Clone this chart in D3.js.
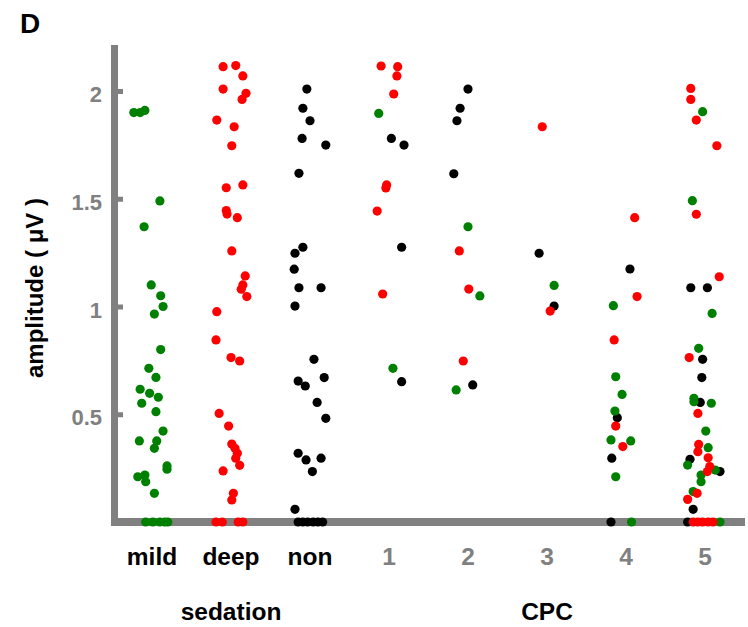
<!DOCTYPE html>
<html><head><meta charset="utf-8">
<script src="https://cdn.jsdelivr.net/npm/d3@7"></script>
<style>
body{margin:0;background:#fff;}
text{font-family:"Liberation Sans",Arial,sans-serif;font-weight:bold;}
</style></head>
<body><svg id="c" width="748" height="627"></svg>
<script>
const categories = ["mild","deep","non","1","2","3","4","5"];
const yTicks = [0.5, 1, 1.5, 2];
const yTickLabels = ["0.5","1","1.5","2"];
// each point: [category, jitter (fraction of category step), amplitude]
const greenPts = [
 ["mild",-0.23,1.90],["mild",-0.15,1.90],["mild",-0.09,1.91],["mild",0.10,1.49],["mild",-0.10,1.37],
 ["mild",-0.01,1.10],["mild",0.11,1.05],["mild",0.14,1.00],["mild",0.03,0.965],["mild",0.11,0.80],
 ["mild",-0.04,0.713],["mild",0.05,0.671],["mild",-0.15,0.616],["mild",-0.03,0.597],["mild",0.08,0.579],
 ["mild",-0.13,0.551],["mild",0.05,0.512],["mild",0.14,0.422],["mild",-0.16,0.376],["mild",0.06,0.376],
 ["mild",0.03,0.342],["mild",0.19,0.26],["mild",0.19,0.245],["mild",-0.18,0.21],["mild",-0.09,0.218],
 ["mild",-0.08,0.187],["mild",0.03,0.133],
 ["mild",-0.08,0],["mild",0.01,0],["mild",0.10,0],["mild",0.16,0],["mild",0.20,0],
 ["1",-0.13,1.896],["1",0.05,0.713],
 ["2",0.00,1.37],["2",0.15,1.049],["2",-0.15,0.613],
 ["3",0.09,1.098],
 ["4",-0.16,1.004],["4",-0.13,0.674],["4",-0.05,0.592],["4",-0.14,0.515],["4",-0.19,0.381],
 ["4",0.06,0.376],["4",-0.13,0.21],["4",0.07,0],
 ["5",-0.03,1.904],["5",-0.16,1.491],["5",0.09,0.968],["5",-0.08,0.806],["5",-0.14,0.574],
 ["5",-0.14,0.558],["5",0.08,0.551],["5",0.01,0.422],["5",0.04,0.345],["5",-0.22,0.264],
 ["5",0.13,0.241],["5",-0.05,0.218],["5",-0.05,0.187],["5",-0.15,0.141],["5",0.19,0]
];
const redPts = [
 ["deep",-0.10,2.113],["deep",0.06,2.118],["deep",0.15,2.07],["deep",-0.10,2.009],["deep",0.19,1.989],
 ["deep",0.14,1.961],["deep",-0.18,1.865],["deep",0.04,1.834],["deep",0.01,1.746],["deep",-0.06,1.551],
 ["deep",0.15,1.564],["deep",-0.06,1.445],["deep",-0.05,1.429],["deep",0.08,1.412],["deep",0.01,1.258],
 ["deep",0.18,1.142],["deep",0.15,1.10],["deep",0.13,1.08],["deep",0.20,1.046],["deep",-0.18,0.976],
 ["deep",-0.19,0.845],["deep",0.00,0.763],["deep",0.11,0.747],["deep",-0.15,0.504],["deep",-0.03,0.445],
 ["deep",0.01,0.362],["deep",0.05,0.342],["deep",0.08,0.319],["deep",0.06,0.296],["deep",0.11,0.263],
 ["deep",-0.10,0.237],["deep",0.03,0.133],["deep",0.01,0.102],
 ["deep",-0.19,0],["deep",-0.11,0],["deep",0.09,0],["deep",0.15,0],
 ["1",-0.10,2.116],["1",0.11,2.113],["1",0.10,2.07],["1",0.06,1.986],["1",-0.03,1.564],
 ["1",-0.04,1.55],["1",-0.15,1.443],["1",-0.08,1.058],
 ["2",-0.11,1.258],["2",0.01,1.081],["2",-0.06,0.747],
 ["3",-0.06,1.834],["3",0.04,0.979],
 ["4",0.11,1.412],["4",0.14,1.046],["4",-0.15,0.845],["4",-0.13,0.445],["4",-0.04,0.350],
 ["5",-0.18,2.012],["5",-0.18,1.961],["5",-0.11,1.865],["5",0.15,1.746],["5",-0.11,1.428],
 ["5",0.18,1.138],["5",-0.20,0.763],["5",-0.09,0.504],["5",-0.08,0.360],["5",-0.09,0.326],
 ["5",0.04,0.298],["5",0.06,0.257],["5",0.03,0.234],["5",-0.10,0.133],["5",-0.22,0.105],
 ["5",-0.15,0],["5",-0.09,0],["5",-0.03,0],["5",0.04,0],["5",0.10,0]
];
const blackPts = [
 ["non",-0.04,2.009],["non",-0.09,1.92],["non",0.00,1.862],["non",-0.10,1.78],["non",0.20,1.749],
 ["non",-0.14,1.618],["non",-0.09,1.275],["non",-0.19,1.247],["non",-0.20,1.173],["non",-0.14,1.087],
 ["non",0.14,1.087],["non",-0.19,1.002],["non",0.05,0.755],["non",-0.15,0.654],["non",-0.06,0.631],
 ["non",0.18,0.670],["non",0.09,0.555],["non",0.20,0.481],["non",-0.15,0.319],["non",-0.05,0.288],
 ["non",0.14,0.296],["non",0.03,0.234],["non",-0.19,0.059],
 ["non",-0.15,0],["non",-0.09,0],["non",-0.03,0],["non",0.04,0],["non",0.10,0],["non",0.16,0],
 ["1",0.03,1.78],["1",0.19,1.749],["1",0.16,1.275],["1",0.16,0.651],
 ["2",0.00,2.009],["2",-0.10,1.92],["2",-0.14,1.862],["2",-0.18,1.616],["2",0.06,0.636],
 ["3",-0.10,1.247],["3",0.09,1.002],
 ["4",0.05,1.174],["4",-0.11,0.484],["4",-0.18,0.296],["4",-0.19,0],
 ["5",-0.18,1.087],["5",0.03,1.087],["5",-0.03,0.755],["5",-0.04,0.670],["5",-0.06,0.555],
 ["5",-0.19,0.291],["5",0.19,0.234],["5",-0.15,0.059],["5",-0.22,0]
];
const groupLabels = [["sedation",["mild","deep","non"]],["CPC",["1","2","3","4","5"]]];

const svg = d3.select("#c");
const gray = "#808080";
const x = d3.scalePoint().domain(categories).range([152, 705]);
const step = x.step();
const y = d3.scaleLinear().domain([0, 2]).range([522, 91]);

// axes
svg.append("line").attr("x1",114.5).attr("x2",114.5).attr("y1",45).attr("y2",522)
  .attr("stroke",gray).attr("stroke-width",7);
svg.append("line").attr("x1",111).attr("x2",745).attr("y1",522).attr("y2",522)
  .attr("stroke",gray).attr("stroke-width",8);
const yAxis = d3.axisRight(y).tickValues(yTicks).tickSize(9).tickFormat("");
const ga = svg.append("g").attr("transform","translate(114,0)").call(yAxis);
ga.select(".domain").remove();
ga.selectAll(".tick line").attr("stroke",gray).attr("stroke-width",5);
// tick labels
svg.selectAll(".ylab").data(yTicks).enter().append("text")
  .attr("x",102).attr("y",d=>y(d)+11).attr("text-anchor","end")
  .attr("fill",gray).attr("font-size",22).text((d,i)=>yTickLabels[i]);

// category labels
svg.selectAll(".xlab").data(categories).enter().append("text")
  .attr("x",d=>x(d)).attr("y",565).attr("text-anchor","middle")
  .attr("font-size",24.5).attr("fill",(d,i)=>i<3?"#000":gray).text(d=>d);

svg.selectAll(".glab").data(groupLabels).enter().append("text")
  .attr("x",d=>d3.mean(d[1],c=>x(c))).attr("y",620).attr("text-anchor","middle")
  .attr("font-size",24.5).attr("fill","#000").text(d=>d[0]);

svg.append("text").attr("transform","translate(43,288) rotate(-90)")
  .attr("text-anchor","middle").attr("font-size",24).attr("fill","#000").text("amplitude ( \u03bcV )");
svg.append("text").attr("x",20).attr("y",33).attr("font-size",28).attr("fill","#000").text("D");

// points
function drawPts(data, color){
  svg.append("g").selectAll("circle").data(data).enter().append("circle")
    .attr("cx",d=>x(d[0]) + d[1]*step)
    .attr("cy",d=>y(d[2]))
    .attr("r",4.6).attr("fill",color);
}
drawPts(blackPts,"#000000");
drawPts(greenPts,"#008000");
drawPts(redPts,"#ff0000");
</script></body></html>
